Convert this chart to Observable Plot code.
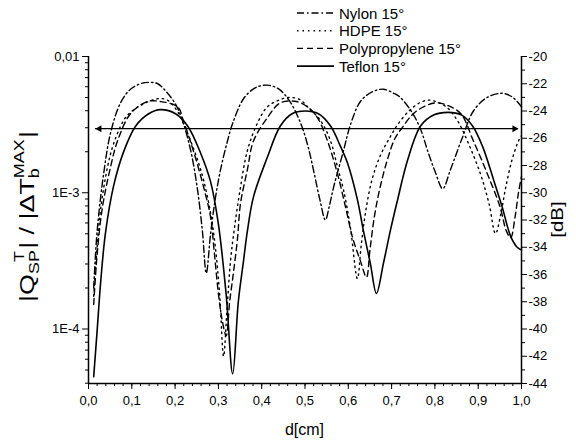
<!DOCTYPE html>
<html><head><meta charset="utf-8">
<script src="https://cdn.jsdelivr.net/npm/d3@7"></script>
<script src="https://cdn.jsdelivr.net/npm/@observablehq/plot@0.6"></script>
<style>
body{margin:0;background:#fff;}
#chart{position:relative;width:576px;height:445px;}
</style></head><body><div id="chart"></div>
<script>
// ---- data (x in cm, y in dB as read on the right axis) ----
const seriesNames = ["Nylon 15°", "HDPE 15°", "Polypropylene 15°", "Teflon 15°"];
const seriesDash = ["7,3,1.5,3", "1.5,4", "6,4", null];

const dNylon = [0.012,0.020,0.035,0.051,0.074,0.097,0.120,0.139,0.160,0.180,0.201,0.217,0.236,0.251,0.263,0.272,0.282,0.293,0.305,0.321,0.333,0.358,0.385,0.413,0.440,0.465,0.490,0.507,0.520,0.535,0.547,0.556,0.566,0.589,0.605,0.628,0.655,0.681,0.705,0.720,0.751,0.770,0.783,0.800,0.818,0.836,0.864,0.889,0.921,0.956,0.980,1.000];
const dbNylon = [-37.0,-32.8,-28.6,-25.6,-23.4,-22.4,-22.0,-21.9,-22.0,-22.6,-23.5,-24.7,-26.9,-29.6,-32.8,-35.9,-33.0,-30.4,-28.3,-26.2,-24.9,-23.1,-22.3,-22.1,-22.4,-23.3,-24.9,-26.6,-28.4,-30.6,-32.0,-31.0,-29.6,-26.9,-25.0,-23.3,-22.6,-22.4,-22.7,-23.0,-24.3,-25.6,-26.9,-28.4,-29.7,-28.3,-25.9,-24.0,-23.0,-22.7,-23.0,-23.7];

const dHdpe = [0.012,0.020,0.028,0.044,0.058,0.081,0.097,0.120,0.159,0.182,0.205,0.219,0.236,0.252,0.266,0.282,0.293,0.303,0.312,0.320,0.328,0.337,0.351,0.367,0.390,0.413,0.440,0.466,0.490,0.506,0.536,0.559,0.575,0.589,0.605,0.621,0.630,0.640,0.655,0.675,0.695,0.714,0.740,0.765,0.785,0.810,0.830,0.852,0.875,0.905,0.925,0.940,0.952,0.963,0.978,0.993,1.000];
const dbHdpe = [-37.6,-34.0,-31.2,-28.1,-26.4,-24.7,-24.1,-23.6,-23.1,-23.2,-24.0,-24.9,-26.2,-27.6,-29.1,-31.5,-34.0,-37.5,-42.0,-38.5,-35.0,-32.6,-29.6,-26.9,-24.9,-23.7,-23.2,-23.0,-23.2,-23.7,-24.7,-26.2,-28.1,-29.8,-32.6,-36.3,-33.8,-31.4,-29.0,-27.2,-26.0,-25.0,-24.0,-23.4,-23.2,-23.4,-23.8,-24.7,-26.2,-28.6,-30.8,-33.0,-31.6,-29.7,-27.6,-26.2,-25.8];

const dPp = [0.012,0.020,0.032,0.051,0.067,0.097,0.136,0.165,0.206,0.219,0.242,0.266,0.282,0.290,0.300,0.309,0.318,0.326,0.335,0.344,0.351,0.367,0.381,0.413,0.443,0.480,0.506,0.529,0.552,0.575,0.594,0.610,0.628,0.642,0.650,0.660,0.672,0.690,0.708,0.725,0.750,0.780,0.805,0.830,0.860,0.889,0.921,0.950,0.965,0.975,0.985,0.993,1.000];
const dbPp = [-38.2,-34.5,-31.1,-28.1,-26.2,-24.2,-23.3,-23.3,-23.7,-24.7,-26.9,-29.6,-31.8,-34.2,-37.4,-39.4,-40.5,-38.0,-35.8,-33.4,-30.8,-28.3,-26.2,-24.5,-23.4,-23.3,-23.7,-24.5,-26.2,-28.6,-31.1,-33.3,-35.0,-36.2,-34.2,-31.8,-29.8,-27.6,-26.0,-25.2,-24.2,-23.6,-23.4,-23.6,-24.2,-26.2,-28.6,-31.0,-32.8,-33.3,-31.8,-30.0,-28.8];

const dTeflon = [0.012,0.020,0.028,0.039,0.058,0.081,0.109,0.139,0.166,0.201,0.229,0.259,0.282,0.300,0.318,0.333,0.346,0.358,0.367,0.381,0.413,0.443,0.470,0.500,0.531,0.559,0.582,0.598,0.621,0.635,0.651,0.665,0.681,0.697,0.714,0.737,0.767,0.797,0.830,0.862,0.887,0.910,0.935,0.955,0.975,0.990,1.000];
const dbTeflon = [-43.5,-40.1,-36.6,-33.0,-29.5,-27.0,-25.1,-24.2,-23.9,-24.2,-25.1,-27.1,-29.2,-32.3,-37.5,-43.3,-38.0,-35.0,-32.8,-30.3,-27.4,-25.1,-24.2,-24.0,-24.2,-25.1,-26.6,-27.8,-30.5,-32.8,-35.2,-37.4,-35.2,-32.8,-30.5,-27.6,-25.1,-24.3,-24.1,-24.3,-25.1,-26.6,-29.0,-31.0,-33.2,-34.0,-34.2];

// horizontal double arrow (threshold)
const arrowDb = [-25.3];
const arrowStart = [0.016];
const arrowEnd = [0.993];

// axes
const xTickValues = [0,0.1,0.2,0.3,0.4,0.5,0.6,0.7,0.8,0.9,1.0];
const leftTickQ = [0.01, 0.001, 0.0001];
const leftTickLabels = ["0,01", "1E-3", "1E-4"];
const rightTicks = [-20,-22,-24,-26,-28,-30,-32,-34,-36,-38,-40,-42,-44];

// ---- build ----
const toDb = q => 10 * Math.log10(q);
const series = [[dNylon, dbNylon], [dHdpe, dbHdpe], [dPp, dbPp], [dTeflon, dbTeflon]];
const rowsOf = i => series[i][0].map((d, j) => ({d, db: series[i][1][j]}));

const yMin = -44, yMax = -20;
const leftMinor = [];
for (let e = -5; e <= -3; e++) for (let k = 2; k <= 9; k++) {
  const v = toDb(k * Math.pow(10, e));
  if (v >= yMin - 1e-9 && v <= yMax + 1e-9) leftMinor.push(v);
}
const leftMajor = leftTickQ.map(toDb);
const leftLabel = v => { const i = leftMajor.findIndex(m => Math.abs(m - v) < 1e-6); return i >= 0 ? leftTickLabels[i] : ""; };
const rightMinor = d3.range(-43, -20, 2);
const xMinor = d3.range(0, 1.0001, 0.02);
const arrowRows = arrowDb.map((y, i) => ({y, x1: arrowStart[i], x2: arrowEnd[i]}));

const W = 576, H = 445, mT = 56, mB = 62, mL = 88, mR = 55;
const font = "'Liberation Sans', Arial, sans-serif";

const lineMarks = series.map((s, i) => Plot.line(rowsOf(i), {
  x: "d", y: "db", stroke: "#000", strokeWidth: i === 3 ? 1.6 : 1.4,
  strokeDasharray: seriesDash[i] ?? undefined, curve: "catmull-rom"
}));

const plot = Plot.plot({
  width: W, height: H, marginTop: mT, marginBottom: mB, marginLeft: mL, marginRight: mR,
  x: {domain: [0, 1]},
  y: {domain: [yMin, yMax]},
  style: {fontFamily: font, fontSize: "13px", color: "#000", background: "#fff", overflow: "visible"},
  marks: [
    Plot.axisX({ticks: xMinor, tickSize: 3, tickFormat: () => "", label: null}),
    Plot.axisX({ticks: xTickValues, tickSize: 6, tickPadding: 6, tickFormat: d => d.toFixed(1).replace(".", ","), label: null, fontSize: 13}),
    Plot.axisY({anchor: "left", ticks: leftMinor, tickSize: 3, tickFormat: () => "", label: null}),
    Plot.axisY({anchor: "left", ticks: leftMajor, tickSize: 6, tickPadding: 3, tickFormat: leftLabel, label: null, fontSize: 13}),
    Plot.axisY({anchor: "right", ticks: rightMinor, tickSize: 3, tickFormat: () => "", label: null}),
    Plot.axisY({anchor: "right", ticks: rightTicks, tickSize: 5, tickPadding: 2, tickFormat: d => String(d), label: null, fontSize: 13}),
    Plot.ruleY([yMin], {stroke: "#000", strokeWidth: 1.5}),
    Plot.ruleX([0, 1], {stroke: "#000", strokeWidth: 1.5}),
    ...lineMarks,
    Plot.ruleY(arrowRows, {y: "y", x1: "x1", x2: "x2", stroke: "#000", strokeWidth: 1.2}),
    Plot.dot(arrowRows, {x: "x1", y: "y", symbol: "triangle", r: 2.6, fill: "#000", stroke: null, rotate: -90, dx: 4}),
    Plot.dot(arrowRows, {x: "x2", y: "y", symbol: "triangle", r: 2.6, fill: "#000", stroke: null, rotate: 90, dx: -4})
  ]
});

document.getElementById("chart").appendChild(plot);
const svg = d3.select(plot);

// axis titles
svg.append("text").attr("x", mL + (W - mL - mR) / 2).attr("y", 435)
  .attr("text-anchor", "middle").attr("font-family", font).attr("font-size", 16).attr("fill", "#000").text("d[cm]");
svg.append("text").attr("transform", `translate(${W - 19},${mT + (H - mT - mB) / 2}) rotate(-90) scale(1.2,1)`)
  .attr("text-anchor", "middle").attr("dominant-baseline", "central")
  .attr("font-family", font).attr("font-size", 17).attr("fill", "#000").text("[dB]");

const lt = svg.append("text").attr("transform", `translate(34,${mT + (H - mT - mB) / 2 - 3}) rotate(-90) scale(1.28,1)`)
  .attr("text-anchor", "middle").attr("font-family", font).attr("font-size", 21).attr("fill", "#000");
lt.append("tspan").text("|Q");
const s1 = lt.append("tspan").attr("font-size", 14).attr("dy", 5).text("SP");
const p1 = lt.append("tspan").attr("font-size", 14).attr("dy", -15).text("T");
const m1 = lt.append("tspan").attr("dy", 10).text("| / |ΔT");
const s2 = lt.append("tspan").attr("font-size", 14).attr("dy", 5).text("b");
const p2 = lt.append("tspan").attr("font-size", 14).attr("dy", -15).text("MAX");
const m2 = lt.append("tspan").attr("dy", 10).text("|");
const wS1 = s1.node().getComputedTextLength(), wP1 = p1.node().getComputedTextLength();
const wS2 = s2.node().getComputedTextLength(), wP2 = p2.node().getComputedTextLength();
p1.attr("dx", -wS1 * 0.5);
m1.attr("dx", Math.max(0, wS1 * 0.5 - wP1) + 1);
p2.attr("dx", -wS2);
m2.attr("dx", Math.max(0, wS2 - wP2) + 1);

// legend
const lg = svg.append("g").attr("text-anchor", "start");
seriesNames.forEach((name, i) => {
  const y = 13 + i * 17.7;
  lg.append("line").attr("x1", 297).attr("x2", 334).attr("y1", y).attr("y2", y)
    .attr("stroke", "#000").attr("stroke-width", i === 3 ? 1.6 : 1.4)
    .attr("stroke-dasharray", seriesDash[i] || null);
  lg.append("text").attr("x", 339).attr("y", y).attr("text-anchor", "start").attr("dominant-baseline", "central")
    .attr("font-family", font).attr("font-size", 15).attr("fill", "#000").text(name);
});
</script>
</body></html>
